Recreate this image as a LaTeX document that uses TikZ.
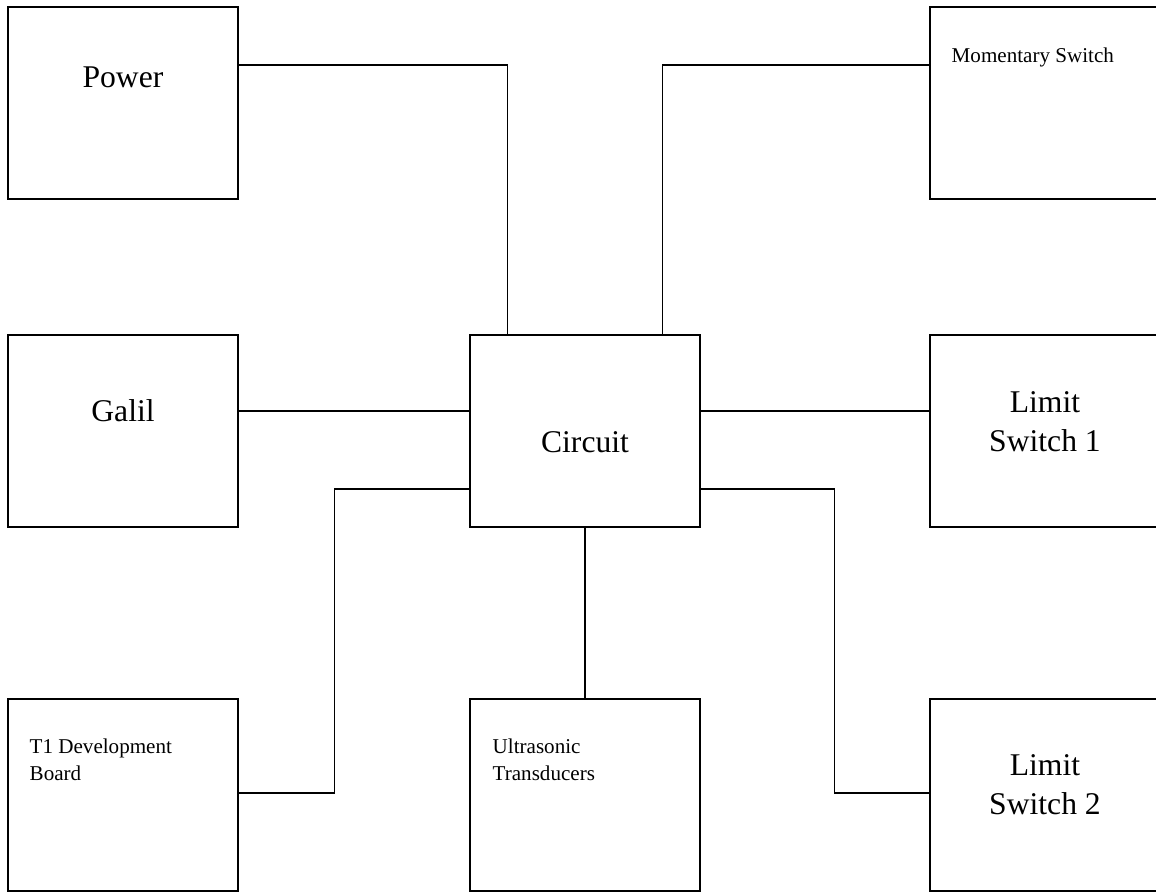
\documentclass[tikz,border=0pt]{standalone}
\usepackage{fontspec}
\setmainfont{Liberation Serif}
\usepackage{tikz}
\usetikzlibrary{calc}
\usetikzlibrary{positioning}
\tikzset{block/.style={rectangle, draw=black, fill=white, minimum width=4.6cm, minimum height=3.84cm, inner sep=0pt},
big label/.style={inner sep=0pt, align=center, font=\fontsize{18}{22.2}\selectfont},
small label/.style={inner sep=0pt, align=left, font=\fontsize{12}{15.4}\selectfont}}

\begin{document}
\begin{tikzpicture}[-,x=0.02cm,y=-0.02cm,thick]

\useasboundingbox (0,0) rectangle (1156,892);

%DRAWING BLOCKS
  \node[block] (power) at (123,103) {};
  \node[block] (moment) at (1045,103) {};
  \node[block] (galil) at (123,431) {};
  \node[block] (circuit) at (585,431) {};
  \node[block] (limitA) at (1045,431) {};
  \node[block] (board) at (123,795) {};
  \node[block] (sonic) at (585,795) {};
  \node[block] (limitB) at (1045,795) {};

%LABELS
  \node[big label, anchor=base] (powerText) at (123,88) {Power};
  \node[small label, anchor=base west] (momentText) at (951,63) {Momentary Switch};
  \node[big label, anchor=base] (galilText) at (123,421) {Galil};
  \node[big label, anchor=base] (circuitText) at (585,452) {Circuit};
  \node[big label, anchor=north] (limitAText) at (1045,390.5) {Limit\\Switch 1};
  \node[small label, anchor=north west] (boardText) at (29,738.5) {T1 Development\\Board};
  \node[small label, anchor=north west] (sonicText) at (492,738.5) {Ultrasonic\\Transducers};
  \node[big label, anchor=north] (limitBText) at (1045,753.5) {Limit\\Switch 2};

%DRAWING CONNECTIONS
  \draw ($(power.east)+(0,-38)$) -| ($(circuit.north west)+(38,0)$);
  \draw ($(moment.west)+(0,-38)$) -| ($(circuit.north east)+(-38,0)$);
  \draw ($(galil.east)+(0,-20)$) -- ($(circuit.west)+(0,-20)$);
  \draw ($(circuit.east)+(0,-20)$) -- ($(limitA.west)+(0,-20)$);
  \draw ($(board.east)+(0,-2)$) -- ++(96,0) |- ($(circuit.west)+(0,58)$);
  \draw (circuit.south) -- (sonic.north);
  \draw ($(circuit.east)+(0,58)$) -- ++(134,0) |- ($(limitB.west)+(0,-2)$);

\end{tikzpicture}
\end{document}
